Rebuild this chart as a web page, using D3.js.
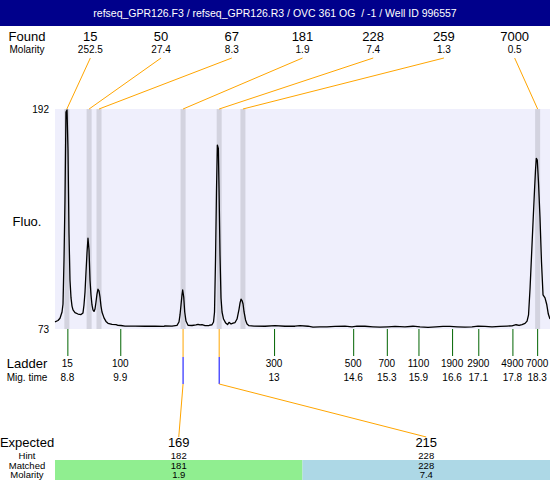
<!DOCTYPE html>
<html><head><meta charset="utf-8">
<script src="https://cdn.jsdelivr.net/npm/d3@7/dist/d3.min.js"></script>
<style>
html,body{margin:0;padding:0;background:#fff;}
svg{display:block;font-family:"Liberation Sans",Arial,sans-serif;}
</style></head>
<body>
<svg id="chart" width="550" height="480"></svg>
<script>
const title = "refseq_GPR126.F3 / refseq_GPR126.R3 / OVC 361 OG  / -1 / Well ID 996557";
// Found peaks
const foundSizes = [15, 50, 67, 181, 228, 259, 7000];
const foundMolarity = [252.5, 27.4, 8.3, 1.9, 7.4, 1.3, 0.5];
const foundTimes = [8.79, 9.24, 9.44, 11.14, 11.87, 12.35, 18.31];
// Ladder
const ladderSizes = [15, 100, 300, 500, 700, 1100, 1900, 2900, 4900, 7000];
const ladderTimes = [8.80, 9.87, 12.98, 14.58, 15.26, 15.90, 16.58, 17.11, 17.80, 18.30];
// Expected
const expectedSizes = [169, 215];
const expectedHint = [182, 228];
const expectedMatched = [181, 228];
const expectedMolarity = [1.9, 7.4];
const expectedColors = ["#90ee90", "#add8e6"];
const matchedPeakIndex = [3, 4];
// Fluorescence axis
const fluoTicks = [73, 192];
const timeDomain = [8.55, 18.56];
// Trace (migration time, fluorescence)
const traceTime = [8.550,8.611,8.651,8.692,8.712,8.732,8.752,8.772,8.793,8.813,8.833,8.853,8.874,8.894,8.914,8.954,9.015,9.076,9.116,9.136,9.157,9.177,9.197,9.217,9.238,9.258,9.278,9.298,9.318,9.339,9.359,9.379,9.399,9.419,9.440,9.460,9.480,9.500,9.541,9.581,9.622,9.703,9.784,9.824,9.884,9.965,10.168,10.370,10.572,10.754,10.774,10.916,11.017,11.057,11.078,11.098,11.118,11.132,11.153,11.173,11.199,11.240,11.321,11.401,11.442,11.483,11.523,11.584,11.665,11.725,11.756,11.776,11.796,11.816,11.833,11.853,11.867,11.887,11.907,11.928,11.958,12.003,12.039,12.069,12.110,12.150,12.191,12.231,12.272,12.292,12.312,12.332,12.353,12.373,12.403,12.433,12.473,12.575,12.797,12.999,13.201,13.403,13.504,13.666,13.767,13.908,14.050,14.212,14.414,14.556,14.657,14.818,14.980,15.122,15.284,15.426,15.627,15.789,15.931,16.093,16.255,16.396,16.538,16.679,16.841,16.983,17.104,17.246,17.387,17.549,17.691,17.792,17.873,17.934,17.994,18.055,18.096,18.126,18.157,18.187,18.217,18.247,18.267,18.283,18.303,18.328,18.358,18.388,18.419,18.459,18.493,18.526,18.560];
const traceFluo = [76.9,77.6,78.8,82.2,86.5,110.3,142.8,190.4,191.5,169.8,124.9,99.5,89.8,85.4,83.3,81.9,81.1,80.8,81.7,86.0,93.0,103.8,114.1,122.1,115.7,99.5,91.4,86.0,83.3,82.5,83.8,87.6,91.9,94.5,93.6,90.3,85.4,82.2,79.0,77.1,76.1,75.5,75.4,75.0,74.9,74.6,74.6,74.5,74.5,74.4,74.7,74.6,75.0,76.8,80.6,86.0,91.4,94.1,90.3,82.2,77.3,75.0,74.9,75.2,75.5,75.2,75.4,74.8,74.9,75.3,76.8,82.2,110.3,148.2,172.5,170.7,149.1,113.0,89.8,82.2,78.4,76.2,75.4,76.6,75.7,76.2,76.5,78.4,83.8,87.1,89.1,88.4,86.5,82.2,77.9,75.7,74.8,74.6,74.5,74.8,74.5,74.5,74.8,74.5,74.0,74.2,74.1,74.4,74.5,74.2,74.5,74.5,74.2,74.0,74.2,74.4,74.2,74.5,74.1,73.9,74.2,74.4,74.4,74.2,74.0,74.2,74.6,74.4,74.2,74.4,74.6,74.7,75.3,74.9,75.4,76.0,77.3,80.6,95.2,113.0,130.8,148.2,159.0,165.3,164.4,151.9,133.0,109.2,91.4,89.8,86.4,81.1,78.4];

const svg = d3.select("#chart");
const W = 550, H = 480;
const plot = {x0: 55, x1: 550, y0: 109, y1: 329};
const labelX = 27;
const fmt1 = v => String(+(+v).toFixed(1));

const x = d3.scaleLinear().domain(timeDomain).range([plot.x0, plot.x1]);
const y = d3.scaleLinear().domain([73, 192]).range([plot.y1, plot.y0]);
const foundBand = d3.scaleBand().domain(d3.range(foundSizes.length)).range([plot.x0, plot.x1]);
const expBand = d3.scaleBand().domain(d3.range(expectedSizes.length)).range([plot.x0, plot.x1]);

// header
svg.append("rect").attr("x",0).attr("y",0).attr("width",W).attr("height",26).attr("fill","#00008b");
svg.append("text").attr("x",W/2).attr("y",17).attr("text-anchor","middle")
  .attr("fill","#fff").attr("font-size",10.5).style("white-space","pre").text(title);

// left labels
function leftLabel(txt, yy, size){
  svg.append("text").attr("x",labelX).attr("y",yy).attr("text-anchor","middle")
    .attr("font-size",size).attr("fill","#000").text(txt);
}
leftLabel("Found", 41, 13);
leftLabel("Molarity", 53, 10);
leftLabel("Fluo.", 226, 13);
leftLabel("Ladder", 368, 13);
leftLabel("Mig. time", 381, 10);
leftLabel("Expected", 446.5, 13);
leftLabel("Hint", 458.8, 9.5);

// found labels
const fc = i => foundBand(i) + foundBand.bandwidth()/2;
svg.append("g").selectAll("text").data(foundSizes).join("text")
  .attr("x",(d,i)=>fc(i)).attr("y",41).attr("text-anchor","middle").attr("font-size",13).text(d=>d);
svg.append("g").selectAll("text").data(foundMolarity).join("text")
  .attr("x",(d,i)=>fc(i)).attr("y",53).attr("text-anchor","middle").attr("font-size",10).text(d=>d.toFixed(1));

// plot background
svg.append("rect").attr("x",plot.x0).attr("y",plot.y0).attr("width",plot.x1-plot.x0).attr("height",plot.y1-plot.y0).attr("fill","#efeffc");

// peak bands
svg.append("g").selectAll("rect").data(foundTimes).join("rect")
  .attr("x",d=>x(d)-2.5).attr("y",plot.y0).attr("width",5).attr("height",plot.y1-plot.y0).attr("fill","#d3d3df");

// connectors from found labels
svg.append("g").selectAll("line").data(foundTimes).join("line")
  .attr("x1",(d,i)=>fc(i)).attr("y1",58).attr("x2",d=>x(d)).attr("y2",plot.y0)
  .attr("stroke","#ffa500").attr("stroke-width",1);

// y axis
const yAxis = d3.axisLeft(y).tickValues(fluoTicks).tickSize(0).tickPadding(6).tickFormat(d3.format("d"));
const ya = svg.append("g").attr("transform",`translate(${plot.x0},0)`).call(yAxis);
ya.select(".domain").remove();
ya.selectAll("text").attr("font-size",10).attr("font-family","Liberation Sans, Arial, sans-serif").attr("fill","#000");

// trace
const pts = traceTime.map((t,i)=>[t, traceFluo[i]]);
const line = d3.line().x(d=>x(d[0])).y(d=>y(d[1]));
svg.append("path").datum(pts).attr("d",line).attr("fill","none").attr("stroke","#000").attr("stroke-width",1.3).attr("stroke-linejoin","round");

// ladder ticks
const xAxis = d3.axisBottom(x).tickValues(ladderTimes).tickSize(27).tickFormat("");
const xa = svg.append("g").attr("transform",`translate(0,${plot.y1})`).call(xAxis);
xa.select(".domain").remove();
xa.selectAll(".tick line").attr("stroke","#006400").attr("stroke-width",1);
svg.append("g").selectAll("text").data(ladderSizes).join("text")
  .attr("x",(d,i)=>x(ladderTimes[i])).attr("y",367).attr("text-anchor","middle").attr("font-size",10).text(d=>d);
svg.append("g").selectAll("text").data(ladderTimes).join("text")
  .attr("x",d=>x(d)).attr("y",380.5).attr("text-anchor","middle").attr("font-size",10).text(d=>fmt1(d));

// matched connectors
const ec = i => expBand(i) + expBand.bandwidth()/2;
matchedPeakIndex.forEach((pi, j) => {
  const px = x(foundTimes[pi]);
  svg.append("line").attr("x1",px).attr("x2",px).attr("y1",plot.y1).attr("y2",357).attr("stroke","#ffa500");
  svg.append("line").attr("x1",px).attr("x2",px).attr("y1",357).attr("y2",384).attr("stroke","#0000ff");
  svg.append("line").attr("x1",px).attr("x2",ec(j)).attr("y1",384).attr("y2",437).attr("stroke","#ffa500");
});

// expected table
svg.append("g").selectAll("rect").data(expectedSizes).join("rect")
  .attr("x",(d,i)=>expBand(i)).attr("y",460).attr("width",expBand.bandwidth()).attr("height",H-460)
  .attr("fill",(d,i)=>expectedColors[i]);
leftLabel("Matched", 468.8, 9.5);
leftLabel("Molarity", 478.3, 9.5);
svg.append("g").selectAll("text").data(expectedSizes).join("text")
  .attr("x",(d,i)=>ec(i)).attr("y",446.5).attr("text-anchor","middle").attr("font-size",13).text(d=>d);
svg.append("g").selectAll("text").data(expectedHint).join("text")
  .attr("x",(d,i)=>ec(i)).attr("y",458.8).attr("text-anchor","middle").attr("font-size",9.5).text(d=>d);
svg.append("g").selectAll("text").data(expectedMatched).join("text")
  .attr("x",(d,i)=>ec(i)).attr("y",468.8).attr("text-anchor","middle").attr("font-size",9.5).text(d=>d);
svg.append("g").selectAll("text").data(expectedMolarity).join("text")
  .attr("x",(d,i)=>ec(i)).attr("y",478.3).attr("text-anchor","middle").attr("font-size",9.5).text(d=>d.toFixed(1));
</script>
</body></html>
